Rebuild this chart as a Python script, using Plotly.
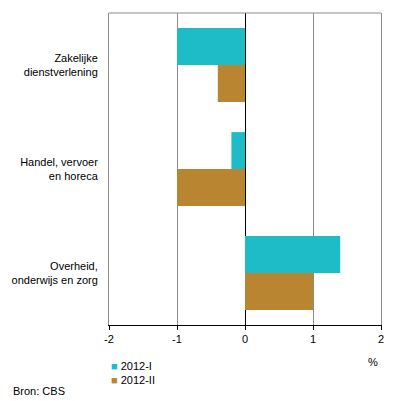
import plotly.graph_objects as go

categories = ["Zakelijke<br>dienstverlening", "Handel, vervoer<br>en horeca", "Overheid,<br>onderwijs en zorg"]
series_names = ["2012-I", "2012-II"]
values_2012_I = [-1.0, -0.2, 1.4]
values_2012_II = [-0.4, -1.0, 1.0]
x_ticks = [-2, -1, 0, 1, 2]
x_tick_labels = ["-2", "-1", "0", "1", "2"]

colors = ["#1ebcc6", "#b98530"]
font = dict(family="Liberation Sans, Arial, sans-serif", size=11, color="#000000")

fig = go.Figure()
for name, vals, col in zip(series_names, [values_2012_I, values_2012_II], colors):
    fig.add_trace(go.Bar(y=categories, x=vals, name=name, orientation="h",
                         marker=dict(color=col, line=dict(width=0)), showlegend=False))

fig.update_layout(
    width=396, height=401,
    margin=dict(l=106, r=12, t=13, b=76),
    paper_bgcolor="white", plot_bgcolor="white",
    font=font,
    barmode="group", bargap=0.29, bargroupgap=0,
    xaxis=dict(range=[-2, 2], tickvals=x_ticks, ticktext=x_tick_labels,
               showgrid=True, gridcolor="#8c8c8c", gridwidth=1,
               zeroline=True, zerolinecolor="#000000", zerolinewidth=1,
               showline=True, linecolor="#000000", linewidth=1,
               ticks="outside", ticklen=4, tickcolor="#000000",
               fixedrange=True),
    yaxis=dict(autorange="reversed", showgrid=False, zeroline=False,
               showline=True, linecolor="#8c8c8c", linewidth=1, mirror=True,
               ticks="", ticklabelstandoff=8, fixedrange=True),
    shapes=[dict(type="line", xref="paper", yref="paper", x0=0, x1=1, y0=1, y1=1,
                 line=dict(color="#8c8c8c", width=1))],
    annotations=[
        dict(text="%", xref="paper", yref="paper", x=(376 - 106) / 278, y=-(362 - 325) / 312,
             showarrow=False, xanchor="center", yanchor="middle"),
        dict(text=f"<span style='color:{colors[0]}'>■</span> {series_names[0]}", xref="paper", yref="paper",
             x=(106 - 106) / 278, y=-(366 - 325) / 312, showarrow=False, xanchor="left", yanchor="middle"),
        dict(text=f"<span style='color:{colors[1]}'>■</span> {series_names[1]}", xref="paper", yref="paper",
             x=(106 - 106) / 278, y=-(380 - 325) / 312, showarrow=False, xanchor="left", yanchor="middle"),
        dict(text="Bron: CBS", xref="paper", yref="paper",
             x=(6 - 106) / 278, y=-(391 - 325) / 312, showarrow=False, xanchor="left", yanchor="middle"),
    ],
)

fig.write_html("out.html", config={"displayModeBar": False},
               post_script="document.body.style.margin='0';document.body.style.padding='0';")
